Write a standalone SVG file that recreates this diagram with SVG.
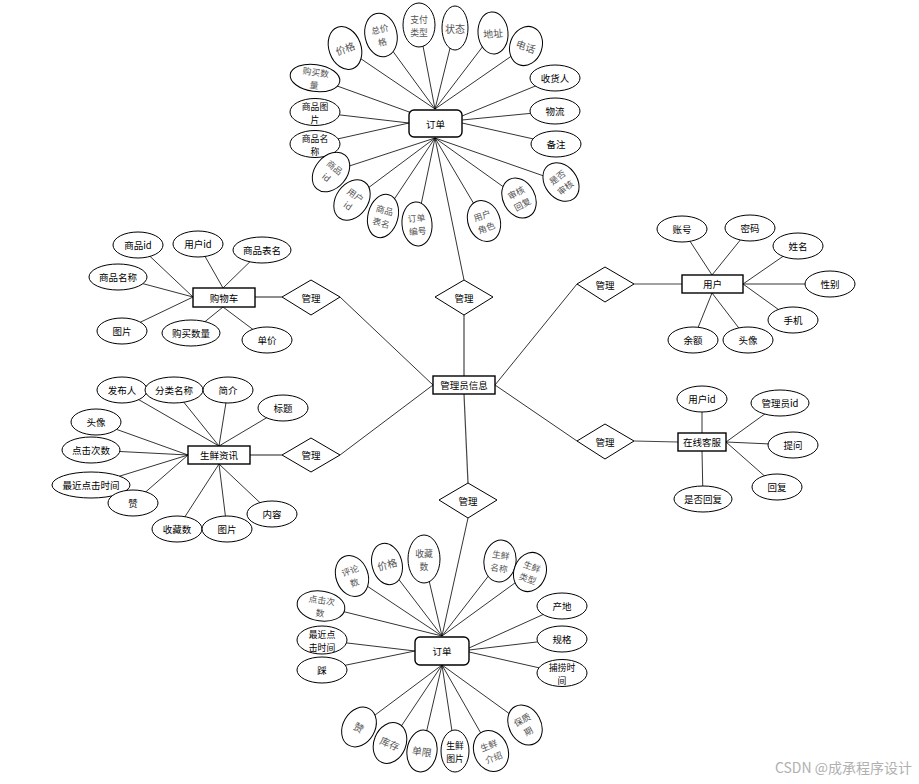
<svg xmlns="http://www.w3.org/2000/svg" width="919" height="784" viewBox="0 0 919 784">
<style>
.e{fill:#fff;stroke:#000;stroke-width:1}
.r{fill:#fff;stroke:#000;stroke-width:1.4}
.d{fill:#fff;stroke:#000;stroke-width:1}
.t{font-family:"Noto Sans CJK SC","Liberation Sans",sans-serif;font-size:9.5px;text-anchor:middle;dominant-baseline:central;fill:#000}
.g{fill:#555;font-size:10px}
.s{font-size:8.8px}
#conn line{stroke:#000;stroke-width:0.8}
#conn line.m{stroke:#444;stroke-width:1.2}
.wm{font-family:"Noto Sans CJK SC","Liberation Sans",sans-serif;font-size:14px;fill:#b0b0b0}
</style>
<rect width="919" height="784" fill="#fff"/>
<g id="conn">
<line x1="345" y1="48" x2="435" y2="109"/>
<line x1="381" y1="35" x2="435" y2="109"/>
<line x1="419" y1="25" x2="435" y2="109"/>
<line x1="455" y1="28" x2="435" y2="109"/>
<line x1="493" y1="33" x2="435" y2="109"/>
<line x1="526" y1="46" x2="435" y2="109"/>
<line x1="315" y1="78" x2="412" y2="113"/>
<line x1="315" y1="112" x2="409" y2="123"/>
<line x1="315" y1="144" x2="409" y2="123"/>
<line x1="555" y1="78" x2="462" y2="116"/>
<line x1="555" y1="111" x2="462" y2="120"/>
<line x1="556" y1="144" x2="462" y2="123"/>
<line x1="331" y1="172" x2="435" y2="138"/>
<line x1="352" y1="200" x2="435" y2="138"/>
<line x1="383" y1="216" x2="435" y2="138"/>
<line x1="417" y1="224" x2="435" y2="138"/>
<line x1="484" y1="221" x2="435" y2="138"/>
<line x1="519" y1="198" x2="435" y2="138"/>
<line x1="561" y1="182" x2="435" y2="138"/>
<line x1="435" y1="138" x2="464" y2="280"/>
<line class="m" x1="464" y1="315" x2="464" y2="376"/>
<line class="m" x1="464" y1="394" x2="468" y2="483"/>
<line x1="340" y1="297" x2="433" y2="385"/>
<line x1="340" y1="455" x2="433" y2="385"/>
<line x1="577" y1="284" x2="495" y2="385"/>
<line x1="577" y1="441" x2="495" y2="385"/>
<line class="m" x1="255" y1="297" x2="282" y2="297"/>
<line class="m" x1="250" y1="455" x2="282" y2="455"/>
<line class="m" x1="634" y1="284" x2="682" y2="284"/>
<line class="m" x1="634" y1="441" x2="678" y2="442"/>
<line x1="468" y1="518" x2="442" y2="636"/>
<line x1="138" y1="245" x2="193" y2="297"/>
<line x1="118" y1="277" x2="193" y2="297"/>
<line x1="122" y1="331" x2="193" y2="297"/>
<line x1="198" y1="244" x2="223" y2="288"/>
<line x1="262" y1="250" x2="223" y2="288"/>
<line x1="191" y1="333" x2="223" y2="307"/>
<line x1="267" y1="340" x2="223" y2="307"/>
<line x1="122" y1="390" x2="219" y2="446"/>
<line x1="174" y1="390" x2="219" y2="446"/>
<line x1="228" y1="390" x2="219" y2="446"/>
<line x1="283" y1="408" x2="219" y2="446"/>
<line x1="96" y1="422" x2="188" y2="455"/>
<line x1="91" y1="450" x2="188" y2="455"/>
<line x1="91" y1="485" x2="188" y2="455"/>
<line x1="133" y1="503" x2="188" y2="455"/>
<line x1="177" y1="529" x2="219" y2="464"/>
<line x1="227" y1="529" x2="219" y2="464"/>
<line x1="272" y1="514" x2="219" y2="464"/>
<line x1="682" y1="229" x2="712" y2="275"/>
<line x1="750" y1="228" x2="712" y2="275"/>
<line x1="798" y1="246" x2="743" y2="284"/>
<line x1="830" y1="284" x2="743" y2="284"/>
<line x1="793" y1="320" x2="743" y2="284"/>
<line x1="748" y1="340" x2="712" y2="293"/>
<line x1="693" y1="340" x2="712" y2="293"/>
<line x1="702" y1="399" x2="702" y2="433"/>
<line x1="780" y1="403" x2="726" y2="442"/>
<line x1="793" y1="445" x2="726" y2="442"/>
<line x1="777" y1="487" x2="726" y2="442"/>
<line x1="703" y1="499" x2="702" y2="451"/>
<line x1="352" y1="576" x2="442" y2="636"/>
<line x1="387" y1="564" x2="442" y2="636"/>
<line x1="424" y1="559" x2="442" y2="636"/>
<line x1="500" y1="561" x2="442" y2="636"/>
<line x1="530" y1="572" x2="442" y2="636"/>
<line x1="321" y1="606" x2="442" y2="636"/>
<line x1="322" y1="640" x2="415" y2="651"/>
<line x1="322" y1="670" x2="415" y2="651"/>
<line x1="562" y1="606" x2="469" y2="648"/>
<line x1="562" y1="639" x2="469" y2="650"/>
<line x1="562" y1="673" x2="469" y2="652"/>
<line x1="359" y1="727" x2="442" y2="665"/>
<line x1="390" y1="743" x2="442" y2="665"/>
<line x1="422" y1="751" x2="442" y2="665"/>
<line x1="455" y1="751" x2="442" y2="665"/>
<line x1="491" y1="751" x2="442" y2="665"/>
<line x1="525" y1="725" x2="442" y2="665"/>
</g>

<g id="order-top"><rect class="r" x="409" y="110" width="53" height="27" rx="5"/><text class="t" x="435.5" y="123.5">订单</text></g>
<g id="admin"><rect class="r" x="433" y="376" width="62" height="18"/><text class="t" x="464" y="385">管理员信息</text></g>
<g id="cart"><rect class="r" x="193" y="288" width="62" height="19"/><text class="t" x="224" y="297.5">购物车</text></g>
<g id="news"><rect class="r" x="188" y="446" width="62" height="18"/><text class="t" x="219" y="455">生鲜资讯</text></g>
<g id="user"><rect class="r" x="682" y="275" width="61" height="18"/><text class="t" x="712.5" y="284">用户</text></g>
<g id="service"><rect class="r" x="678" y="433" width="48" height="18"/><text class="t" x="702" y="442">在线客服</text></g>
<g id="order-bottom"><rect class="r" x="415" y="637" width="54" height="28" rx="5"/><text class="t" x="442" y="651">订单</text></g>

<g id="rel-top"><polygon class="d" points="435,297 464,280 493,297 464,315"/><text class="t" x="464" y="297.5">管理</text></g>
<g id="rel-cart"><polygon class="d" points="282,297 311,280 340,297 311,315"/><text class="t" x="311" y="297.5">管理</text></g>
<g id="rel-news"><polygon class="d" points="282,455 311,438 340,455 311,472"/><text class="t" x="311" y="455">管理</text></g>
<g id="rel-user"><polygon class="d" points="577,284 605,267 634,284 605,302"/><text class="t" x="605" y="284.5">管理</text></g>
<g id="rel-service"><polygon class="d" points="577,441 605,424 634,441 605,459"/><text class="t" x="605" y="441.5">管理</text></g>
<g id="rel-bottom"><polygon class="d" points="439,500 468,483 497,500 468,518"/><text class="t" x="468" y="500.5">管理</text></g>

<g id="a-t-price" transform="translate(345,48) rotate(-20)"><ellipse class="e" rx="16" ry="22"/><text class="t g" x="0" y="0">价格</text></g>
<g id="a-t-total" transform="translate(381,35) rotate(-12)"><ellipse class="e" rx="16" ry="22"/><text class="t g s"><tspan x="0" y="-6.5">总价</tspan><tspan x="0" y="6.5">格</tspan></text></g>
<g id="a-t-paytype" transform="translate(419,25)"><ellipse class="e" rx="16" ry="22"/><text class="t g s"><tspan x="0" y="-6.5">支付</tspan><tspan x="0" y="6.5">类型</tspan></text></g>
<g id="a-t-status" transform="translate(455,28)"><ellipse class="e" rx="13" ry="22"/><text class="t g" x="0" y="0">状态</text></g>
<g id="a-t-addr" transform="translate(493,33) rotate(-5)"><ellipse class="e" rx="15" ry="21"/><text class="t g" x="0" y="0">地址</text></g>
<g id="a-t-phone" transform="translate(526,46) rotate(20)"><ellipse class="e" rx="16" ry="20"/><text class="t g" x="0" y="0">电话</text></g>
<g id="a-t-receiver"><ellipse class="e" cx="555" cy="78" rx="25" ry="13"/><text class="t" x="555" y="78">收货人</text></g>
<g id="a-t-logistics"><ellipse class="e" cx="555" cy="111" rx="25" ry="13"/><text class="t" x="555" y="111">物流</text></g>
<g id="a-t-remark"><ellipse class="e" cx="556" cy="144" rx="25" ry="13"/><text class="t" x="556" y="144">备注</text></g>
<g id="a-t-qty" transform="translate(315,78) rotate(8)"><ellipse class="e" rx="25" ry="13.5"/><text class="t g s"><tspan x="0" y="-6.5">购买数</tspan><tspan x="0" y="6.5">量</tspan></text></g>
<g id="a-t-img"><ellipse class="e" cx="315" cy="112" rx="25" ry="13.5"/><text class="t s"><tspan x="315" y="105.5">商品图</tspan><tspan x="315" y="118.5">片</tspan></text></g>
<g id="a-t-name"><ellipse class="e" cx="315" cy="144" rx="25" ry="13.5"/><text class="t s"><tspan x="315" y="137.5">商品名</tspan><tspan x="315" y="150.5">称</tspan></text></g>
<g id="a-t-gid" transform="translate(331,172) rotate(40)"><ellipse class="e" rx="16" ry="22"/><text class="t g s"><tspan x="0" y="-6.5">商品</tspan><tspan x="0" y="6.5">id</tspan></text></g>
<g id="a-t-uid" transform="translate(352,200) rotate(35)"><ellipse class="e" rx="16" ry="22"/><text class="t g s"><tspan x="0" y="-6.5">用户</tspan><tspan x="0" y="6.5">id</tspan></text></g>
<g id="a-t-table" transform="translate(383,216) rotate(15)"><ellipse class="e" rx="15" ry="22"/><text class="t g s"><tspan x="0" y="-6.5">商品</tspan><tspan x="0" y="6.5">表名</tspan></text></g>
<g id="a-t-no" transform="translate(417,224) rotate(-5)"><ellipse class="e" rx="15" ry="22"/><text class="t g s"><tspan x="0" y="-6.5">订单</tspan><tspan x="0" y="6.5">编号</tspan></text></g>
<g id="a-t-role" transform="translate(484,221) rotate(-20)"><ellipse class="e" rx="16" ry="21"/><text class="t g s"><tspan x="0" y="-6.5">用户</tspan><tspan x="0" y="6.5">角色</tspan></text></g>
<g id="a-t-reply" transform="translate(519,198) rotate(-28)"><ellipse class="e" rx="16" ry="21"/><text class="t g s"><tspan x="0" y="-6.5">审核</tspan><tspan x="0" y="6.5">回复</tspan></text></g>
<g id="a-t-audit" transform="translate(561,182) rotate(-38)"><ellipse class="e" rx="16" ry="21"/><text class="t g s"><tspan x="0" y="-6.5">是否</tspan><tspan x="0" y="6.5">审核</tspan></text></g>

<g id="a-c-gid"><ellipse class="e" cx="138" cy="245" rx="25" ry="13"/><text class="t" x="138" y="245">商品id</text></g>
<g id="a-c-uid"><ellipse class="e" cx="198" cy="244" rx="25" ry="13"/><text class="t" x="198" y="244">用户id</text></g>
<g id="a-c-table"><ellipse class="e" cx="262" cy="250" rx="29" ry="13"/><text class="t" x="262" y="250">商品表名</text></g>
<g id="a-c-name"><ellipse class="e" cx="118" cy="277" rx="29" ry="13"/><text class="t" x="118" y="277">商品名称</text></g>
<g id="a-c-img"><ellipse class="e" cx="122" cy="331" rx="25" ry="13"/><text class="t" x="122" y="331">图片</text></g>
<g id="a-c-qty"><ellipse class="e" cx="191" cy="333" rx="29" ry="13"/><text class="t" x="191" y="333">购买数量</text></g>
<g id="a-c-price"><ellipse class="e" cx="267" cy="340" rx="25" ry="13"/><text class="t" x="267" y="340">单价</text></g>

<g id="a-n-pub"><ellipse class="e" cx="122" cy="390" rx="25" ry="13"/><text class="t" x="122" y="390">发布人</text></g>
<g id="a-n-cat"><ellipse class="e" cx="174" cy="390" rx="29" ry="13"/><text class="t" x="174" y="390">分类名称</text></g>
<g id="a-n-intro"><ellipse class="e" cx="228" cy="390" rx="25" ry="13"/><text class="t" x="228" y="390">简介</text></g>
<g id="a-n-title"><ellipse class="e" cx="283" cy="408" rx="25" ry="13"/><text class="t" x="283" y="408">标题</text></g>
<g id="a-n-avatar"><ellipse class="e" cx="96" cy="422" rx="25" ry="13"/><text class="t" x="96" y="422">头像</text></g>
<g id="a-n-clicks"><ellipse class="e" cx="91" cy="450" rx="29" ry="13"/><text class="t" x="91" y="450">点击次数</text></g>
<g id="a-n-last"><ellipse class="e" cx="91" cy="485" rx="39" ry="13"/><text class="t" x="91" y="485">最近点击时间</text></g>
<g id="a-n-like"><ellipse class="e" cx="133" cy="503" rx="25" ry="13"/><text class="t" x="133" y="503">赞</text></g>
<g id="a-n-fav"><ellipse class="e" cx="177" cy="529" rx="25" ry="13"/><text class="t" x="177" y="529">收藏数</text></g>
<g id="a-n-img"><ellipse class="e" cx="227" cy="529" rx="25" ry="13"/><text class="t" x="227" y="529">图片</text></g>
<g id="a-n-content"><ellipse class="e" cx="272" cy="514" rx="25" ry="13"/><text class="t" x="272" y="514">内容</text></g>

<g id="a-u-acc"><ellipse class="e" cx="682" cy="229" rx="25" ry="13"/><text class="t" x="682" y="229">账号</text></g>
<g id="a-u-pwd"><ellipse class="e" cx="750" cy="228" rx="25" ry="13"/><text class="t" x="750" y="228">密码</text></g>
<g id="a-u-name"><ellipse class="e" cx="798" cy="246" rx="25" ry="13"/><text class="t" x="798" y="246">姓名</text></g>
<g id="a-u-sex"><ellipse class="e" cx="830" cy="284" rx="25" ry="13"/><text class="t" x="830" y="284">性别</text></g>
<g id="a-u-phone"><ellipse class="e" cx="793" cy="320" rx="25" ry="13"/><text class="t" x="793" y="320">手机</text></g>
<g id="a-u-avatar"><ellipse class="e" cx="748" cy="340" rx="25" ry="13"/><text class="t" x="748" y="340">头像</text></g>
<g id="a-u-bal"><ellipse class="e" cx="693" cy="340" rx="25" ry="13"/><text class="t" x="693" y="340">余额</text></g>

<g id="a-s-uid"><ellipse class="e" cx="702" cy="399" rx="25" ry="13"/><text class="t" x="702" y="399">用户id</text></g>
<g id="a-s-aid"><ellipse class="e" cx="780" cy="403" rx="29" ry="13"/><text class="t" x="780" y="403">管理员id</text></g>
<g id="a-s-ask"><ellipse class="e" cx="793" cy="445" rx="25" ry="13"/><text class="t" x="793" y="445">提问</text></g>
<g id="a-s-reply"><ellipse class="e" cx="777" cy="487" rx="25" ry="13"/><text class="t" x="777" y="487">回复</text></g>
<g id="a-s-replied"><ellipse class="e" cx="703" cy="499" rx="29" ry="13"/><text class="t" x="703" y="499">是否回复</text></g>

<g id="a-b-comments" transform="translate(352,576) rotate(-20)"><ellipse class="e" rx="16" ry="21"/><text class="t g s"><tspan x="0" y="-6.5">评论</tspan><tspan x="0" y="6.5">数</tspan></text></g>
<g id="a-b-price" transform="translate(387,564) rotate(-15)"><ellipse class="e" rx="15" ry="21"/><text class="t g" x="0" y="0">价格</text></g>
<g id="a-b-fav" transform="translate(424,559)"><ellipse class="e" rx="16" ry="24"/><text class="t g s"><tspan x="0" y="-6.5">收藏</tspan><tspan x="0" y="6.5">数</tspan></text></g>
<g id="a-b-name" transform="translate(500,561) rotate(8)"><ellipse class="e" rx="16" ry="21"/><text class="t g s"><tspan x="0" y="-6.5">生鲜</tspan><tspan x="0" y="6.5">名称</tspan></text></g>
<g id="a-b-type" transform="translate(530,572) rotate(20)"><ellipse class="e" rx="16" ry="20"/><text class="t g s"><tspan x="0" y="-6.5">生鲜</tspan><tspan x="0" y="6.5">类型</tspan></text></g>
<g id="a-b-clicks" transform="translate(321,606) rotate(8)"><ellipse class="e" rx="24" ry="15"/><text class="t g s"><tspan x="0" y="-6.5">点击次</tspan><tspan x="0" y="6.5">数</tspan></text></g>
<g id="a-b-last"><ellipse class="e" cx="322" cy="640" rx="25" ry="14"/><text class="t s"><tspan x="322" y="633.5">最近点</tspan><tspan x="322" y="646.5">击时间</tspan></text></g>
<g id="a-b-dislike"><ellipse class="e" cx="322" cy="670" rx="25" ry="13"/><text class="t" x="322" y="670">踩</text></g>
<g id="a-b-origin"><ellipse class="e" cx="562" cy="606" rx="25" ry="13"/><text class="t" x="562" y="606">产地</text></g>
<g id="a-b-spec"><ellipse class="e" cx="562" cy="639" rx="25" ry="13"/><text class="t" x="562" y="639">规格</text></g>
<g id="a-b-catch"><ellipse class="e" cx="562" cy="673" rx="25" ry="13.5"/><text class="t s"><tspan x="562" y="666.5">捕捞时</tspan><tspan x="562" y="679.5">间</tspan></text></g>
<g id="a-b-like" transform="translate(359,727) rotate(30)"><ellipse class="e" rx="16" ry="21"/><text class="t g" x="0" y="0">赞</text></g>
<g id="a-b-stock" transform="translate(390,743) rotate(22)"><ellipse class="e" rx="16" ry="21"/><text class="t g" x="0" y="0">库存</text></g>
<g id="a-b-limit" transform="translate(422,751) rotate(8)"><ellipse class="e" rx="15" ry="21"/><text class="t g" x="0" y="0">单限</text></g>
<g id="a-b-img"><ellipse class="e" cx="455" cy="751" rx="14" ry="21"/><text class="t s"><tspan x="455" y="744.5">生鲜</tspan><tspan x="455" y="757.5">图片</tspan></text></g>
<g id="a-b-intro" transform="translate(491,751) rotate(-22)"><ellipse class="e" rx="17" ry="21"/><text class="t g s"><tspan x="0" y="-6.5">生鲜</tspan><tspan x="0" y="6.5">介绍</tspan></text></g>
<g id="a-b-shelf" transform="translate(525,725) rotate(-28)"><ellipse class="e" rx="16" ry="21"/><text class="t g s"><tspan x="0" y="-6.5">保质</tspan><tspan x="0" y="6.5">期</tspan></text></g>

<text class="wm" x="912" y="773" text-anchor="end">CSDN @成承程序设计</text>
</svg>
